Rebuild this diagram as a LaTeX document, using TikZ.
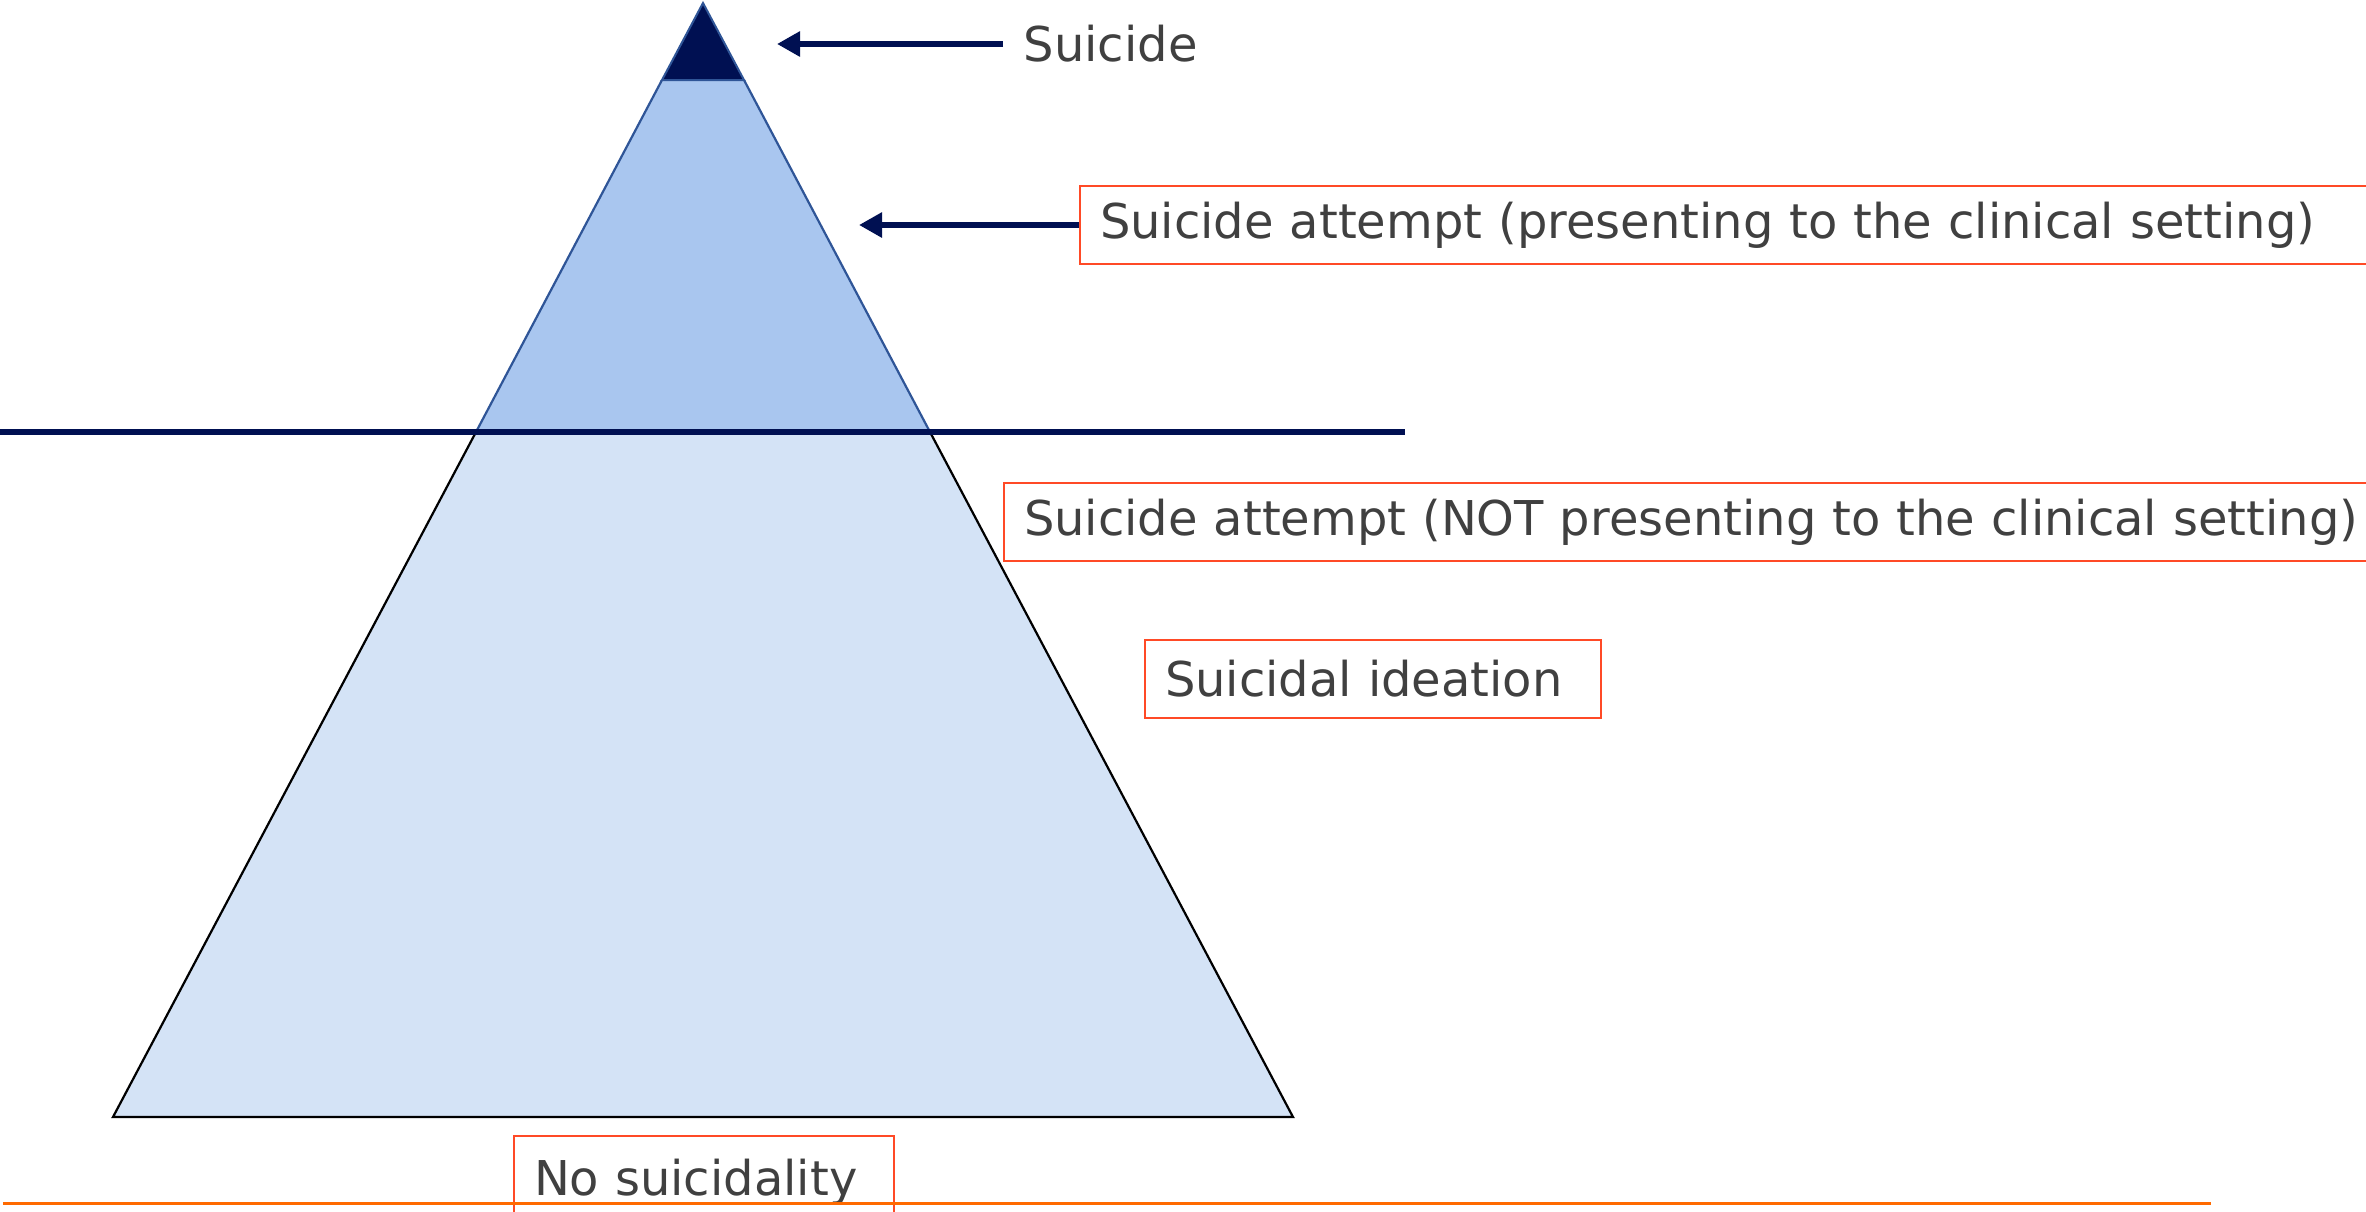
\documentclass[tikz,border=0pt]{standalone}
\usepackage{fontspec}
\setmainfont{DejaVu Sans}
\usetikzlibrary{arrows.meta}
\definecolor{navyDark}{HTML}{001052}
\definecolor{blueMid}{HTML}{A9C6EF}
\definecolor{blueLow}{HTML}{D4E3F6}
\definecolor{blueEdge}{HTML}{2F5597}
\definecolor{boxRed}{HTML}{FF4A26}
\definecolor{lineOrange}{HTML}{FF6A00}
\definecolor{textGray}{HTML}{404040}
\tikzset{myLabel/.style={text=textGray, font=\fontsize{13.64}{16}\selectfont, inner xsep=0.2cm, inner ysep=0pt, anchor=west}}
\tikzset{myboxRed/.style={myLabel, draw=boxRed, line width=0.02cm, minimum height=0.78cm, align=left}}
\tikzset{myArrow/.style={-{Triangle[length=0.23cm,width=0.24cm]}, draw=navyDark, line width=0.06cm}}

\begin{document}
\begin{tikzpicture}[x=0.01cm, y=-0.01cm]

\useasboundingbox (0,0) rectangle (2366,1212);

\coordinate (apex) at (703,3);
\coordinate (tipL) at (662,80);
\coordinate (tipR) at (744,80);
\coordinate (seaL) at (476,432);
\coordinate (seaR) at (930,432);
\coordinate (baseL) at (113,1117);
\coordinate (baseR) at (1293,1117);

\fill[blueLow] (seaL) -- (seaR) -- (baseR) -- (baseL) -- cycle;
\draw[black, line width=0.022cm] (seaL) -- (baseL) -- (baseR) -- (seaR);
\fill[blueMid] (tipL) -- (tipR) -- (seaR) -- (seaL) -- cycle;
\draw[blueEdge, line width=0.022cm] (seaL) -- (tipL) (tipR) -- (seaR);
\filldraw[fill=navyDark, draw=blueEdge, line width=0.02cm] (apex) -- (tipR) -- (tipL) -- cycle;

\coordinate (seaStart) at (0,432);
\coordinate (seaEnd) at (1405,432);
\draw[navyDark, line width=0.06cm] (seaStart) -- (seaEnd);

\node[myLabel] (suicide) at (1003,44) {Suicide};
\node[myboxRed, text width=12.47cm] (presenting) at (1079,225) {Suicide attempt (presenting to the clinical setting)};
\node[myboxRed, text width=13.8cm] (notPresenting) at (1003,522) {Suicide attempt (NOT presenting to the clinical setting)};
\node[myboxRed, text width=4.16cm] (ideation) at (1144,679) {Suicidal ideation};
\node[myboxRed, text width=3.40cm, anchor=base west, text height=0.59cm, text depth=0.4cm] (noSuicidality) at (513,1195) {No suicidality};

\coordinate (suicideTip) at (777,44);
\coordinate (attemptTip) at (859,225);
\draw[myArrow] (suicide.west) -- (suicideTip);
\draw[myArrow] (presenting.west) -- (attemptTip);

\coordinate (groundStart) at (3,1203);
\coordinate (groundEnd) at (2211,1203);
\draw[lineOrange, line width=0.03cm] (groundStart) -- (groundEnd);

\end{tikzpicture}
\end{document}
